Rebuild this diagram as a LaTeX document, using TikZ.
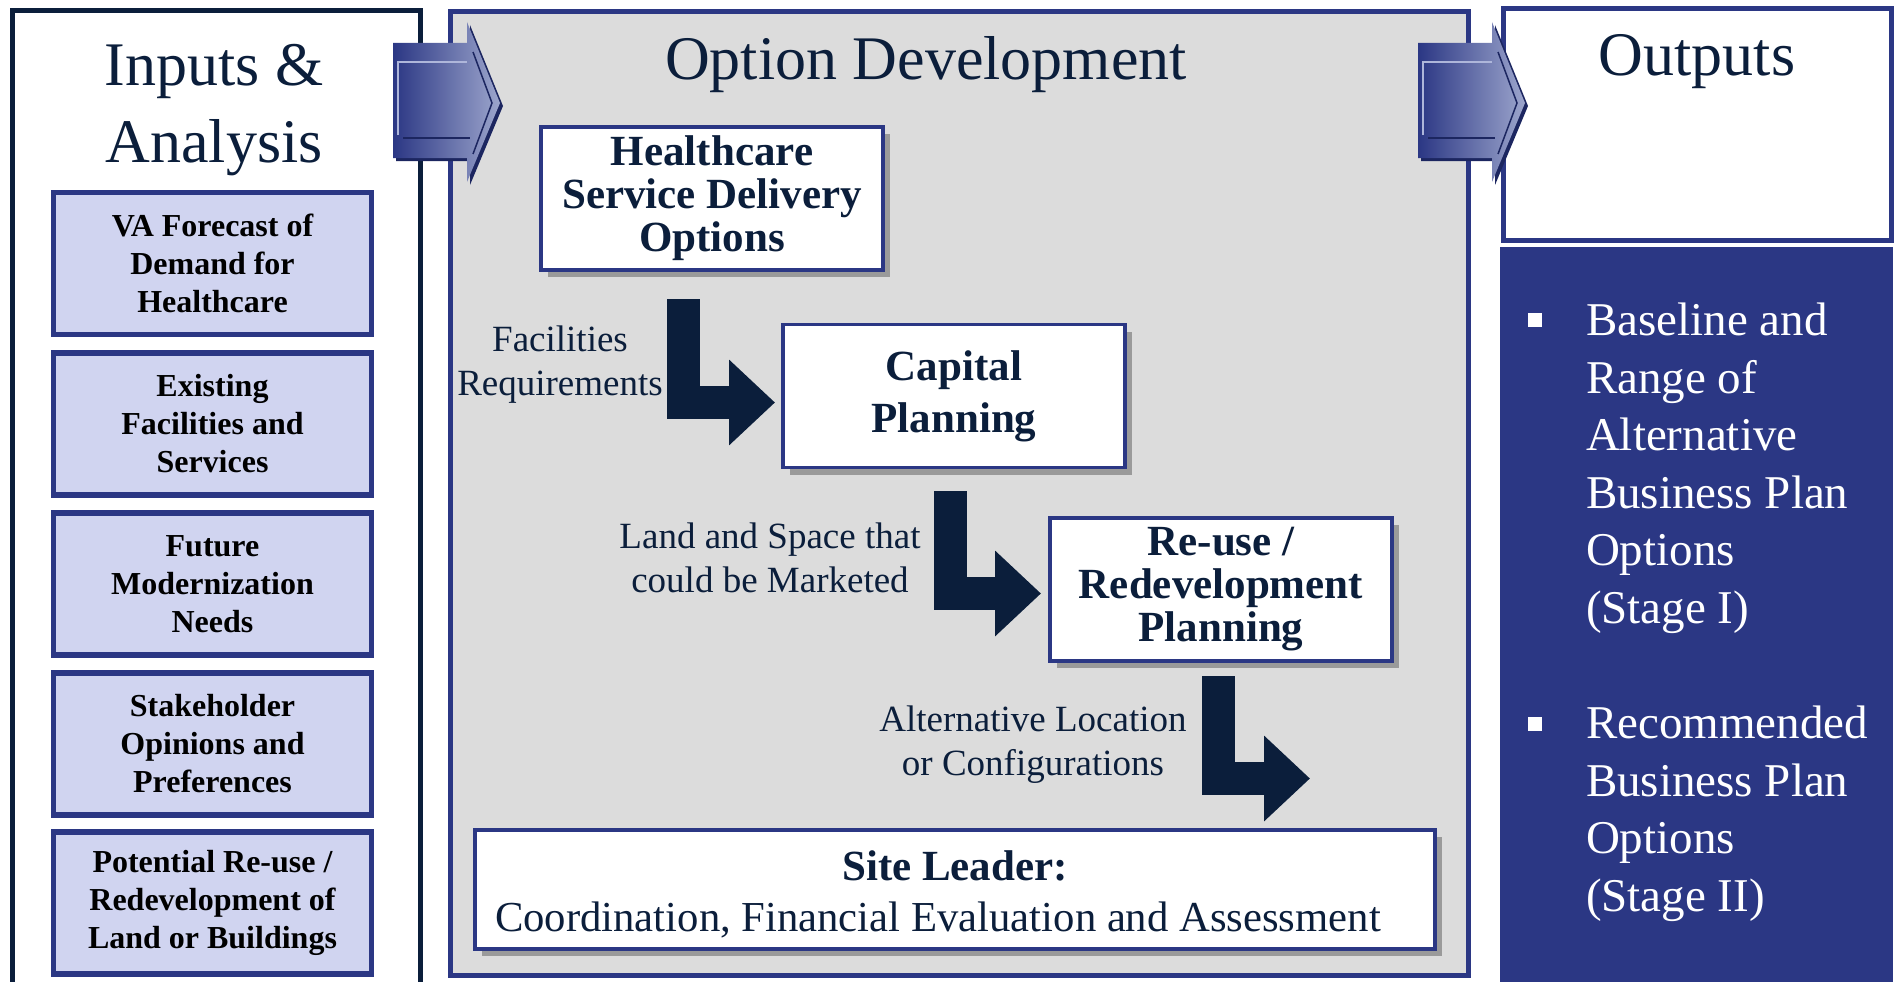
\documentclass[tikz,border=0pt]{standalone}
\usepackage{fontspec}
\setmainfont{Liberation Serif}
\usetikzlibrary{arrows.meta,shadows}
\definecolor{navy}{HTML}{0B1E3B}
\definecolor{frameblue}{HTML}{2B3784}
\definecolor{lav}{HTML}{D0D4F0}
\definecolor{panel}{HTML}{DCDCDC}
\definecolor{shadowgrey}{HTML}{9A9A9A}
\definecolor{arrowdark}{HTML}{1C2660}
\definecolor{arrowlight}{HTML}{9CA5CC}
\definecolor{arrowpale}{HTML}{AEB6DA}
\newcommand{\titlefont}{\fontsize{62}{77}\selectfont}
\newcommand{\inputfont}{\fontsize{32}{38}\selectfont\bfseries}
\newcommand{\stepfont}{\fontsize{43}{43}\selectfont\bfseries}
\newcommand{\labelfont}{\fontsize{37}{44}\selectfont}
\newcommand{\outfont}{\fontsize{47}{57.5}\selectfont}

\begin{document}
\begin{tikzpicture}[x=1pt, y=-1pt,
  every node/.style={inner sep=0, outer sep=0},
  title/.style={font=\titlefont, text=navy, align=center, anchor=base},
  inbox/.style={draw=frameblue, fill=lav, line width=5.5, minimum width=318, minimum height=142, align=center, font=\inputfont, text=black},
  stepbox/.style={draw=frameblue, fill=white, line width=3.5, minimum width=342, minimum height=143, align=center, font=\stepfont, text=navy,
    drop shadow={shadow xshift=7pt, shadow yshift=-7pt, fill=shadowgrey, opacity=1}},
  flowlabel/.style={font=\labelfont, text=navy, align=center, anchor=base},
  elbow/.style={draw=navy, line width=33, line join=miter, -{Triangle[width=83pt,length=46pt]}},
  outtext/.style={font=\outfont, text=white, align=left, anchor=base west}]
  \useasboundingbox (0,0) rectangle (1898,982);
  \clip (0,0) rectangle (1898,982);
  \node[draw=navy, line width=5, minimum width=408, minimum height=1000, anchor=north west] (inp) at (12,11) {};
  \node[draw=frameblue, fill=panel, line width=5, minimum width=1018, minimum height=963, anchor=north west] (opt) at (450,12) {};
  \node[draw=frameblue, fill=white, line width=5, minimum width=388, minimum height=231, anchor=north west] (outp) at (1503,9) {};
  \node[fill=frameblue, minimum width=393, minimum height=760, anchor=north west] (outlist) at (1500,247) {};
  \node[title] (inptitle) at (214,162) {Inputs \&\\Analysis};
  \node[title] (opttitle) at (926,80) {Option Development};
  \node[title] (outtitle) at (1697,75) {Outputs};
  \node[inbox] (va) at (212.5,263.5) {VA Forecast of\\Demand for\\Healthcare};
  \node[inbox] (ef) at (212.5,424) {Existing\\Facilities and\\Services};
  \node[inbox] (fm) at (212.5,584) {Future\\Modernization\\Needs};
  \node[inbox] (sh) at (212.5,744) {Stakeholder\\Opinions and\\Preferences};
  \node[inbox] (pr) at (212.5,903) {Potential Re-use /\\Redevelopment of\\Land or Buildings};
  \node[stepbox] (hsdo) at (712,198.5) {Healthcare\\Service Delivery\\Options};
  \node[stepbox, font=\fontsize{43}{52}\selectfont\bfseries] (cap) at (954,396) {Capital\\Planning};
  \node[stepbox] (reuse) at (1221,589.5) {Re-use /\\Redevelopment\\Planning};
  \node[stepbox, minimum width=960, minimum height=119] (lead) at (955,889.5) {};
  \node[font=\stepfont, text=navy, anchor=base] (leadtitle) at (955,880) {Site Leader:};
  \node[font=\fontsize{42.7}{50}\selectfont, text=navy, anchor=base west] (leadtext) at (495,931) {Coordination, Financial Evaluation and Assessment};
  \node[flowlabel] (fr) at (560,395) {Facilities\\Requirements};
  \node[flowlabel] (ls) at (770,592) {Land and Space that\\could be Marketed};
  \node[flowlabel] (al) at (1033,775) {Alternative Location\\or Configurations};
  \coordinate (e1) at (683.5,299);
  \coordinate (t1) at (775,402.5);
  \coordinate (e2) at (950,491);
  \coordinate (t2) at (1041,593.5);
  \coordinate (e3) at (1218.5,676);
  \coordinate (t3) at (1310,778.5);
  \draw[elbow] (e1) |- (t1);
  \draw[elbow] (e2) |- (t2);
  \draw[elbow] (e3) |- (t3);
  \node[fill=white, minimum size=14] (b1) at (1535,319.5) {};
  \node[fill=white, minimum size=14] (b2) at (1535,723.5) {};
  \node[outtext] (o1) at (1586,623) {Baseline and\\Range of\\Alternative\\Business Plan\\Options\\(Stage I)};
  \node[outtext] (o2) at (1586,911) {Recommended\\Business Plan\\Options\\(Stage II)};
  \fill[arrowdark] (396,46) -- (470,46) -- (470,25) -- (503,106) -- (470,185) -- (470,161) -- (396,161) -- cycle;
  \shade[left color=frameblue, right color=arrowlight] (393,43) -- (467,43) -- (467,22) -- (500,103) -- (467,182) -- (467,158) -- (393,158) -- cycle;
  \draw[arrowpale, line width=1.5] (398,135) -- (398,62) -- (467,62);
  \draw[arrowdark, line width=2] (403,138) -- (470,138);
  \draw[arrowdark, line width=1.5] (473,52) -- (492,103) -- (473,154);
  \fill[arrowdark] (1421,46) -- (1495,46) -- (1495,25) -- (1528,106) -- (1495,185) -- (1495,161) -- (1421,161) -- cycle;
  \shade[left color=frameblue, right color=arrowlight] (1418,43) -- (1492,43) -- (1492,22) -- (1525,103) -- (1492,182) -- (1492,158) -- (1418,158) -- cycle;
  \draw[arrowpale, line width=1.5] (1423,135) -- (1423,62) -- (1492,62);
  \draw[arrowdark, line width=2] (1428,138) -- (1495,138);
  \draw[arrowdark, line width=1.5] (1498,52) -- (1517,103) -- (1498,154);
\end{tikzpicture}
\end{document}
